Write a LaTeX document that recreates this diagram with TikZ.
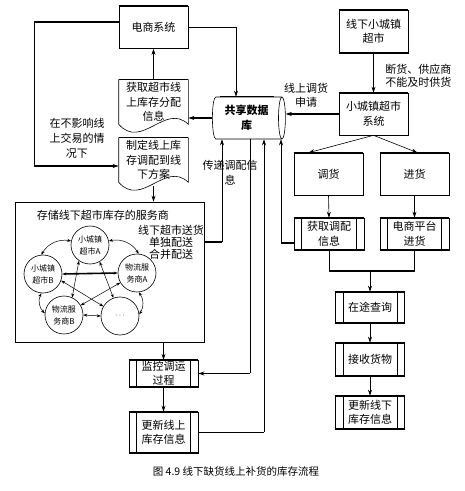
\documentclass[tikz,border=0pt]{standalone}
\usepackage{fontspec}
\setmainfont{Noto Sans CJK SC}
\usetikzlibrary{arrows.meta,calc,positioning,shapes.geometric}

% document shape: rectangle with a wavy bottom
\newcommand{\docline}[1]{%
  \draw (#1.south west) -- (#1.north west) -- (#1.north east) -- (#1.south east)
    .. controls ($(#1.south east)+(-23,22)$) and ($(#1.south west)+(23,-26)$) .. (#1.south west);
  \draw[bar] (#1.north west) -- (#1.north east);}

\begin{document}
\begin{tikzpicture}[x=1pt,y=1pt,>={Stealth[length=6pt,width=4pt]},line width=0.6pt,
  bar/.style={line width=1.6pt},
  box/.style={draw,rectangle,minimum width=69pt,minimum height=42pt,inner sep=1pt,
    align=center,font=\fontsize{11}{14.5}\selectfont},
  topbar/.style={append after command={(\tikzlastnode.north west) edge[bar] (\tikzlastnode.north east)}},
  subproc/.style={box,append after command={
    ($(\tikzlastnode.north west)+(8,0)$) edge ($(\tikzlastnode.south west)+(8,0)$)
    ($(\tikzlastnode.north east)+(-8,0)$) edge ($(\tikzlastnode.south east)+(-8,0)$)
    (\tikzlastnode.north west) edge[bar] (\tikzlastnode.north east)
    (\tikzlastnode.south west) edge[bar] (\tikzlastnode.south east)}},
  docbox/.style={rectangle,minimum width=69pt,minimum height=44pt,inner sep=1pt,
    align=center,font=\fontsize{11}{14.5}\selectfont},
  lbl/.style={align=center,inner sep=0pt,font=\fontsize{11}{15}\selectfont},
  circ/.style={circle,draw,minimum size=38pt,inner sep=0pt,align=center,
    font=\fontsize{8}{12}\selectfont},
  net/.style={<->,>={Stealth[length=4pt,width=3pt]},line width=0.5pt}]
\useasboundingbox (0,0) rectangle (465,491);

% ---- left column ----
\node[box,topbar] (ds) at (153.5,463.5) {电商系统};
\node[docbox] (hq) at (153.5,389) {获取超市线\\上库存分配\\信息};
\docline{hq}
\node[docbox] (zd) at (153.5,331) {制定线上库\\存调配到线\\下方案};
\docline{zd}
\node[lbl] (l1) at (77,353) {在不影响线\\上交易的情\\况下};

% ---- shared database ----
\node[cylinder,draw,shape aspect=0.25,minimum width=42pt,minimum height=73pt,
  inner sep=1pt,align=center,font=\fontsize{11}{15}\selectfont\bfseries] (db) at (246.5,373) {共享数据\\库};
\draw[bar] ($(db.north)+(-27,0)$) -- ($(db.north)+(27,0)$);

% ---- right column ----
\node[box,topbar,minimum height=43pt,append after command={(\tikzlastnode.south west) edge[bar] (\tikzlastnode.south east)}] (xz) at (373.5,459.5) {线下小城镇\\超市};
\node[box,topbar] (xs) at (373.5,377) {小城镇超市\\系统};
\node[lbl,align=left,anchor=west,font=\fontsize{11}{13}\selectfont] (l3) at (385,415.5) {断货、供应商\\不能及时供货};
\node[lbl,font=\fontsize{11}{14}\selectfont] (l2) at (306,396) {线上调货\\申请};
\node[box,topbar] (dh) at (328.5,317) {调货};
\node[box,topbar] (jh) at (414.5,317) {进货};
\node[subproc,minimum width=70pt,minimum height=32pt] (hd) at (329,257) {获取调配\\信息};
\node[subproc,minimum height=32pt] (dp) at (414.5,257) {电商平台\\进货};
\node[subproc,minimum height=31pt] (zt) at (370,183.5) {在途查询};
\node[subproc,minimum height=33pt] (js) at (370,131.5) {接收货物};
\node[subproc,minimum height=33pt] (gx) at (370,78.5) {更新线下\\库存信息};

% ---- service providers ----
\node[draw,rectangle,minimum width=189pt,minimum height=140pt] (fw) at (109.5,219) {};
\node[lbl] (l5) at (103,276) {存储线下超市库存的服务商};
\node[lbl,font=\fontsize{11}{12}\selectfont] (l6) at (171,249) {线下超市送货\\单独配送\\合并配送};
\node[circ] (sa) at (90,246) {小城镇\\超市A};
\node[circ] (sb) at (43,217) {小城镇\\超市B};
\node[circ] (wa) at (137,218) {物流服\\务商A};
\node[circ] (wb) at (64,176) {物流服\\务商B};
\node[circ] (et) at (120,175) {$\cdots$};
\draw[net] (sa.168) to[bend right=35] (sb.95);
\draw[net] (sa.12) to[bend left=35] (wa.85);
\draw[net] (sb.265) to[bend right=35] (wb.175);
\draw[net] (wa.275) to[bend left=35] (et.5);
\draw[net,line width=1.6pt] (sb.east) -- (wa.west);
\draw[net] (wb.east) -- (et.west);
\draw[net] (sa.235) -- (wb.65);
\draw[net] (sa.300) -- (et.110);
\draw[net] (wa.210) -- (wb.30);
\draw[net] (sb.340) -- (et.150);

\node[subproc,minimum height=25pt] (jk) at (163.5,117.5) {监控调运\\过程};
\node[subproc,minimum height=41pt] (gs) at (163.5,58.5) {更新线上\\库存信息};
\node[lbl] (l4) at (230,318) {传递调配信\\息};

% ---- corners ----
\coordinate (k1) at (236,463.5);
\coordinate (k2) at (34,469);
\coordinate (k3) at (34,325);
\coordinate (m1) at (329,220);
\coordinate (m2) at (414.5,220);
\coordinate (k5) at (281,248);
\coordinate (k6) at (222,249);
\coordinate (k7) at (250,117.5);
\coordinate (k8) at (264,58.5);

% ---- connectors ----
\draw[bar] ([yshift=5.5pt]ds.west) -- (k2);
\draw (k2) -- (k3);
\draw[bar,->] (k3) -- ([yshift=-6pt]zd.west);
\draw[bar] (ds.east) -- (k1);
\draw[->] (k1) -- (k1 |- db.north);
\draw[->] (hq.north) -- (ds.south);
\draw[bar,->] (db.west) -- (db.west -| hq.east);
\draw[->] ([yshift=-4pt]zd.south) -- (zd.south |- fw.north);
\draw[->] (xz) -- (xs);
\draw[bar,->] (xs.west) -- (xs.west -| db.east);
\draw[->] (xs.south) -- ([xshift=-20pt]dh.north);
\draw[->] (xs.south) -- ([xshift=3pt]jh.north);
\draw[->] (dh.south) -- (hd.north);
\draw[->] (jh.south) -- (dp.north);
\draw (hd.south) -- (m1);
\draw (dp.south) -- (m2);
\draw[bar] (m1) -- (m2);
\draw[->] (m1 -| zt.north) -- (zt.north);
\draw[->] (zt) -- (js);
\draw[->] (js) -- (gx);
\draw[bar] ([yshift=-9pt]hd.west) -- (k5);
\draw[->] (k5) -- (k5 |- db.south);
\draw[bar] ([yshift=30pt]fw.east) -- (k6);
\draw[->] (k6) -- (k6 |- db.south);
\draw (k7 |- db.south) -- (k7);
\draw[bar,->] (k7) -- (jk.east);
\draw (gs.east) -- (k8);
\draw[->] (k8) -- (k8 |- db.south);
\draw[->] (fw.south -| jk.north) -- (jk.north);
\draw[->] (jk) -- (gs);

\node[lbl,font=\fontsize{10.5}{12}\selectfont] (cap) at (236,19) {图 4.9\ 线下缺货线上补货的库存流程};
\end{tikzpicture}
\end{document}
